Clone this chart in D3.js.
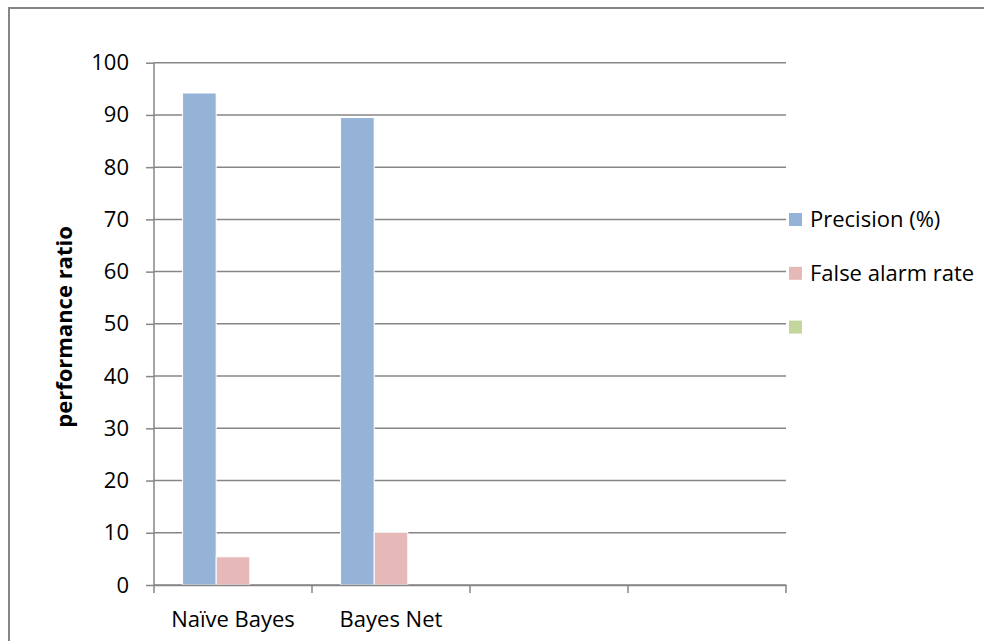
<!DOCTYPE html>
<html>
<head>
<meta charset="utf-8">
<script src="https://d3js.org/d3.v7.min.js"></script>
<style>
  body { margin: 0; background: #fff; overflow: hidden; }
  svg { display: block; font-family: "Open Sans", sans-serif; }
</style>
</head>
<body>
<div id="chart"></div>
<script>
// chart data
const categories = ["Naïve Bayes", "Bayes Net", "", ""];
const seriesNames = ["Precision (%)", "False alarm rate", ""];
const precision = [94.2, 89.5, null, null];
const falseAlarm = [5.4, 10.1, null, null];
const thirdSeries = [null, null, null, null];
const yTicks = [0, 10, 20, 30, 40, 50, 60, 70, 80, 90, 100];
const colors = ["#95b3d7", "#e6b9b8", "#c3d69b"];

const width = 984, height = 641;
const plot = {left: 154, right: 786, top: 62.7, bottom: 585};
const fontSize = "22px";

const svg = d3.select("#chart").append("svg")
  .attr("width", width)
  .attr("height", height);

// outer frame (runs off right and bottom edges)
svg.append("path")
  .attr("d", `M9,${height + 10}V8H${width + 10}`)
  .attr("fill", "none")
  .attr("stroke", "#868686")
  .attr("stroke-width", 2);

const x = d3.scaleBand()
  .domain(d3.range(categories.length))
  .range([plot.left, plot.right]);

const inner = d3.scaleBand()
  .domain(d3.range(seriesNames.length))
  .range([0, x.bandwidth()])
  .paddingOuter(0.85);

const y = d3.scaleLinear()
  .domain([0, 100])
  .range([plot.bottom, plot.top]);

// y axis ticks + labels
const yAxis = svg.append("g")
  .attr("transform", `translate(${plot.left},0)`)
  .call(d3.axisLeft(y).tickValues(yTicks).tickSize(8).tickPadding(17));
yAxis.attr("font-family", null).attr("font-size", null);
yAxis.select(".domain").remove();
yAxis.selectAll(".tick line").attr("stroke", "#868686").attr("stroke-width", 1.5);
yAxis.selectAll(".tick text")
  .attr("fill", "#000")
  .style("font-size", fontSize);

// gridlines
svg.append("g").selectAll("line")
  .data(yTicks)
  .enter()
  .append("line")
  .attr("x1", plot.left)
  .attr("x2", plot.right)
  .attr("y1", d => y(d))
  .attr("y2", d => y(d))
  .attr("stroke", "#868686")
  .attr("stroke-width", 1.5);

// bars
const series = [precision, falseAlarm, thirdSeries];
series.forEach((vals, si) => {
  svg.append("g").selectAll("rect")
    .data(vals.map((v, i) => ({v: v, i: i})).filter(d => d.v != null))
    .enter()
    .append("rect")
    .attr("x", d => x(d.i) + inner(si))
    .attr("width", inner.bandwidth())
    .attr("y", d => y(d.v))
    .attr("height", d => y(0) - y(d.v))
    .attr("fill", colors[si])
    .attr("stroke", "#fff")
    .attr("stroke-width", 1);
});

// y axis line
svg.append("line")
  .attr("x1", plot.left).attr("x2", plot.left)
  .attr("y1", plot.top).attr("y2", plot.bottom)
  .attr("stroke", "#868686")
  .attr("stroke-width", 1.5);

// x axis
const xAxis = svg.append("g")
  .attr("transform", `translate(0,${plot.bottom})`)
  .call(d3.axisBottom(x).tickFormat(i => categories[i]).tickSize(0).tickPadding(26));
xAxis.attr("font-family", null).attr("font-size", null);
xAxis.select(".domain").attr("stroke", "#868686").attr("stroke-width", 1.5);
xAxis.selectAll(".tick text")
  .attr("fill", "#000")
  .style("font-size", fontSize);

const boundaries = d3.range(categories.length + 1).map(i => plot.left + i * x.step());
xAxis.selectAll(".sep")
  .data(boundaries)
  .enter()
  .append("line")
  .attr("x1", d => d).attr("x2", d => d)
  .attr("y1", 0).attr("y2", 8)
  .attr("stroke", "#868686")
  .attr("stroke-width", 1.5);

// axis title
svg.append("text")
  .attr("transform", "translate(72,327) rotate(-90)")
  .attr("text-anchor", "middle")
  .style("font-size", fontSize)
  .style("font-weight", "bold")
  .text("performance ratio");

// legend
const legend = svg.append("g")
  .attr("transform", "translate(789,213)");
seriesNames.forEach((name, i) => {
  const row = legend.append("g").attr("transform", `translate(0,${i * 53.8})`);
  row.append("rect")
    .attr("width", 13).attr("height", 13)
    .attr("fill", colors[i]);
  row.append("text")
    .attr("x", 21).attr("y", 6.5)
    .attr("dy", "0.35em")
    .style("font-size", fontSize)
    .text(name);
});
</script>
</body>
</html>
